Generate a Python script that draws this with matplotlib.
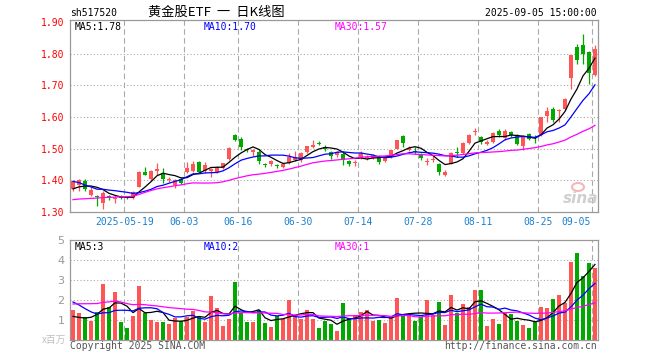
import numpy as np
import pandas as pd
import matplotlib
matplotlib.use("Agg")
import matplotlib.pyplot as plt
from matplotlib.patches import Ellipse

plt.rcParams['font.family'] = ['DejaVu Sans Mono', 'Noto Sans CJK SC']

# trading days 2025-05-06 .. 2025-09-05 (Dragon Boat holiday on 06-02)
dates = pd.bdate_range("2025-05-06", "2025-09-05", freq="C", holidays=["2025-06-02"])
tick_dates = ["2025-05-19", "2025-06-03", "2025-06-16", "2025-06-30", "2025-07-14",
              "2025-07-28", "2025-08-11", "2025-08-25", "2025-09-05"]
tick_labels = ["2025-05-19", "06-03", "06-16", "06-30", "07-14",
               "07-28", "08-11", "08-25", "09-05"]

open_ = [1.373, 1.386, 1.397, 1.355, 1.352, 1.327, 1.349, 1.340, 1.350, 1.347,
         1.343, 1.380, 1.427, 1.404, 1.430, 1.422, 1.402, 1.385, 1.405, 1.425,
         1.429, 1.459, 1.429, 1.429, 1.427, 1.438, 1.467, 1.543, 1.530, 1.497,
         1.490, 1.490, 1.449, 1.450, 1.446, 1.441, 1.454, 1.464, 1.465, 1.489,
         1.504, 1.519, 1.505, 1.489, 1.480, 1.484, 1.460, 1.456, 1.471, 1.470,
         1.471, 1.474, 1.460, 1.474, 1.500, 1.540, 1.495, 1.494, 1.481, 1.459,
         1.465, 1.453, 1.417, 1.453, 1.488, 1.486, 1.518, 1.553, 1.536, 1.514,
         1.521, 1.557, 1.534, 1.552, 1.544, 1.507, 1.545, 1.537, 1.544, 1.604,
         1.625, 1.618, 1.625, 1.724, 1.820, 1.826, 1.804, 1.733]
high = [1.401, 1.405, 1.405, 1.379, 1.353, 1.367, 1.355, 1.350, 1.353, 1.352,
        1.365, 1.428, 1.441, 1.432, 1.455, 1.440, 1.412, 1.405, 1.410, 1.457,
        1.461, 1.461, 1.458, 1.439, 1.445, 1.456, 1.505, 1.546, 1.537, 1.502,
        1.500, 1.496, 1.455, 1.463, 1.451, 1.454, 1.485, 1.494, 1.488, 1.509,
        1.528, 1.523, 1.510, 1.492, 1.492, 1.490, 1.463, 1.464, 1.492, 1.479,
        1.484, 1.479, 1.474, 1.497, 1.528, 1.544, 1.507, 1.505, 1.486, 1.469,
        1.476, 1.455, 1.432, 1.490, 1.505, 1.520, 1.545, 1.565, 1.540, 1.526,
        1.553, 1.563, 1.561, 1.555, 1.547, 1.542, 1.550, 1.542, 1.600, 1.630,
        1.630, 1.625, 1.659, 1.797, 1.830, 1.863, 1.807, 1.828]
low = [1.365, 1.366, 1.365, 1.349, 1.319, 1.311, 1.338, 1.329, 1.340, 1.340,
       1.340, 1.378, 1.416, 1.402, 1.417, 1.393, 1.395, 1.375, 1.388, 1.423,
       1.427, 1.425, 1.424, 1.411, 1.424, 1.436, 1.463, 1.525, 1.495, 1.489,
       1.477, 1.452, 1.442, 1.445, 1.439, 1.438, 1.451, 1.461, 1.458, 1.486,
       1.502, 1.510, 1.494, 1.468, 1.475, 1.448, 1.446, 1.446, 1.466, 1.464,
       1.468, 1.453, 1.458, 1.472, 1.498, 1.505, 1.492, 1.484, 1.464, 1.448,
       1.458, 1.417, 1.415, 1.451, 1.474, 1.484, 1.515, 1.542, 1.514, 1.510,
       1.518, 1.536, 1.526, 1.536, 1.510, 1.497, 1.526, 1.518, 1.541, 1.583,
       1.585, 1.583, 1.622, 1.688, 1.766, 1.766, 1.703, 1.729]
close = [1.397, 1.402, 1.373, 1.370, 1.348, 1.361, 1.343, 1.341, 1.344, 1.343,
         1.362, 1.427, 1.418, 1.429, 1.436, 1.403, 1.405, 1.401, 1.393, 1.440,
         1.452, 1.427, 1.447, 1.437, 1.443, 1.454, 1.503, 1.527, 1.505, 1.496,
         1.497, 1.462, 1.447, 1.462, 1.444, 1.452, 1.473, 1.475, 1.486, 1.507,
         1.512, 1.515, 1.499, 1.478, 1.490, 1.464, 1.453, 1.459, 1.487, 1.473,
         1.481, 1.458, 1.471, 1.495, 1.526, 1.518, 1.502, 1.490, 1.471, 1.461,
         1.467, 1.425, 1.425, 1.487, 1.486, 1.518, 1.542, 1.555, 1.521, 1.521,
         1.551, 1.544, 1.555, 1.544, 1.514, 1.540, 1.531, 1.535, 1.599, 1.620,
         1.592, 1.620, 1.656, 1.795, 1.779, 1.799, 1.740, 1.816]
# volume, millions
volume = [1.52, 1.35, 1.15, 0.97, 1.40, 2.82, 1.67, 2.42, 0.92, 0.62,
          1.21, 2.71, 1.34, 1.01, 0.91, 0.91, 0.79, 1.12, 0.96, 1.14,
          1.46, 1.20, 0.91, 2.21, 1.61, 0.70, 1.06, 2.88, 1.34, 0.92,
          0.92, 1.51, 0.86, 0.65, 1.21, 1.07, 1.98, 1.24, 1.07, 1.48,
          1.07, 0.62, 0.97, 0.80, 0.47, 1.85, 1.10, 1.25, 1.40, 1.52,
          0.97, 1.02, 0.85, 1.10, 2.10, 1.30, 1.23, 0.97, 1.15, 2.00,
          1.23, 1.90, 0.75, 2.25, 1.35, 1.80, 1.65, 2.50, 2.50, 0.70,
          1.05, 0.80, 1.35, 1.30, 0.95, 0.75, 0.60, 0.95, 1.65, 1.60,
          2.05, 2.25, 1.85, 3.90, 4.35, 3.20, 3.85, 3.60]

# days before the visible window, estimated so that the MA lines start where they do
prev_close = [1.34, 1.35, 1.33, 1.32, 1.31, 1.33, 1.32, 1.31, 1.33, 1.32,
              1.26, 1.22, 1.25, 1.28, 1.30, 1.31, 1.30, 1.32, 1.33, 1.37,
              1.44, 1.45, 1.43, 1.42, 1.362, 1.37, 1.36, 1.37, 1.368]
prev_volume = [1.0, 1.1, 0.9, 1.2, 1.0, 1.06, 1.0,
               2.5, 3.0, 2.8, 2.2, 1.9, 2.0, 1.8, 2.1, 2.0, 1.9, 1.8, 2.0, 1.74,
               2.8, 3.0, 2.6, 2.5, 2.2, 1.6, 1.3, 0.8, 0.68]

RED = "#ff5555"
GREEN = "#00a800"
W, H = 660, 360


def rect(x0, y0, x1, y1):
    return [x0 / W, 1 - y1 / H, (x1 - x0) / W, (y1 - y0) / H]


def moving(prev, vals, n):
    s = pd.Series(list(prev) + list(vals)).rolling(n).mean().values
    return s[len(prev):]


o = np.array(open_)
c = np.array(close)
x = np.arange(len(c))
colors = np.where(c >= o, RED, GREEN)
grid_x = [list(dates.strftime("%Y-%m-%d")).index(d) - 0.42 for d in tick_dates]

fig = plt.figure(figsize=(6.6, 3.6), dpi=100)
ax = fig.add_axes(rect(70, 20, 598, 212))
axv = fig.add_axes(rect(70, 240, 598, 340))

for a in (ax, axv):
    for s in a.spines.values():
        s.set_color("#999999")
        s.set_linewidth(0.9)
    a.set_xlim(-0.5, len(c) - 0.5)
    a.set_xticks([])
    a.tick_params(length=0)
    for gx in grid_x:
        a.axvline(gx, color="#aaaaaa", lw=0.8, ls=(0, (5, 3)), zorder=0)

# price panel
ax.vlines(x, low, high, colors=colors, lw=0.9, zorder=2)
ax.bar(x, np.maximum(np.abs(c - o), 0.003), bottom=np.minimum(o, c), width=0.78,
       color=colors, linewidth=0, zorder=3)
ma5 = moving(prev_close, c, 5)
ma10 = moving(prev_close, c, 10)
ma30 = moving(prev_close, c, 30)
ax.plot(x, ma5, color="black", lw=0.9, zorder=4)
ax.plot(x, ma10, color="#0000ff", lw=0.9, zorder=4)
ax.plot(x, ma30, color="#ff00ff", lw=0.9, zorder=4)
ax.set_ylim(1.30, 1.9063)
ax.set_yticks([1.3, 1.4, 1.5, 1.6, 1.7, 1.8, 1.9])
ax.set_yticklabels(["%.2f" % v for v in [1.3, 1.4, 1.5, 1.6, 1.7, 1.8, 1.9]],
                   color="#ff0000", fontsize=7)
ax.tick_params(axis="y", pad=4)
for gy in [1.4, 1.5, 1.6, 1.7, 1.8]:
    ax.axhline(gy, color="#aaaaaa", lw=0.8, ls=(0, (1, 2)), zorder=0)

ax.text(5 / 528, 1 - 7 / 192, "MA5:%.2f" % (np.floor(ma5[-1] * 100) / 100), transform=ax.transAxes,
        fontsize=7, color="black", va="center")
ax.text(134 / 528, 1 - 7 / 192, "MA10:%.2f" % (np.floor(ma10[-1] * 100) / 100), transform=ax.transAxes,
        fontsize=7, color="#0000ff", va="center")
ax.text(265 / 528, 1 - 7 / 192, "MA30:%.2f" % (np.floor(ma30[-1] * 100) / 100), transform=ax.transAxes,
        fontsize=7, color="#ff00ff", va="center")

for i, (gx, lab) in enumerate(zip(grid_x, tick_labels)):
    if i == len(tick_labels) - 1:
        ax.text(gx - 0.3, -0.05, lab, transform=ax.get_xaxis_transform(), ha="right",
                va="center", fontsize=7, color="#1a80d0")
    else:
        ax.text(gx, -0.05, lab, transform=ax.get_xaxis_transform(), ha="center",
                va="center", fontsize=7, color="#1a80d0")

# volume panel
v = np.array(volume)
axv.bar(x, v, width=0.83, color=colors, linewidth=0, zorder=2)
axv.plot(x, moving(prev_volume, v, 5), color="black", lw=0.9, zorder=4)
axv.plot(x, moving(prev_volume, v, 10), color="#0000ff", lw=0.9, zorder=4)
axv.plot(x, moving(prev_volume, v, 30), color="#ff00ff", lw=0.9, zorder=4)
axv.set_ylim(0, 5)
axv.set_yticks([1, 2, 3, 4, 5])
axv.set_yticklabels(["1", "2", "3", "4", "5"], color="#999999", fontsize=8,
                    family=["DejaVu Sans"])
axv.tick_params(axis="y", pad=4)
for gy in [1, 2, 3, 4]:
    axv.axhline(gy, color="#aaaaaa", lw=0.8, ls=(0, (1, 2)), zorder=0)
vm5 = moving(prev_volume, v, 5)[-1]
vm10 = moving(prev_volume, v, 10)[-1]
vm30 = moving(prev_volume, v, 30)[-1]
axv.text(5 / 528, 1 - 7 / 100, "MA5:%d" % int(vm5), transform=axv.transAxes,
         fontsize=7, color="black", va="center")
axv.text(134 / 528, 1 - 7 / 100, "MA10:%d" % int(vm10), transform=axv.transAxes,
         fontsize=7, color="#0000ff", va="center")
axv.text(265 / 528, 1 - 7 / 100, "MA30:%d" % int(vm30), transform=axv.transAxes,
         fontsize=7, color="#ff00ff", va="center")

# header and footer
fig.text(70 / W, 1 - 13 / H, "sh517520", fontsize=7, va="center", color="black")
fig.text(216 / W, 1 - 12.5 / H, "黄金股ETF  一  日K线图", fontsize=9.5, ha="center", va="center",
         family=["Noto Sans CJK SC", "DejaVu Sans"], color="black")
fig.text(597 / W, 1 - 13 / H, "2025-09-05 15:00:00", fontsize=7, ha="right", va="center")
fig.text(66 / W, 1 - 340 / H, "x百万", fontsize=7, ha="right", va="center", color="#c0c0c0",
         family=["Noto Sans CJK SC", "DejaVu Sans"])
fig.text(70 / W, 1 - 346 / H, "Copyright 2025 SINA.COM", fontsize=7, va="center", color="#555555")
fig.text(597 / W, 1 - 346 / H, "http://finance.sina.com.cn", fontsize=7, ha="right",
         va="center", color="#555555")

# sina watermark
fig.add_artist(Ellipse((578 / W, 1 - 187 / H), 12 / W, 8 / H, transform=fig.transFigure,
                       facecolor="none", edgecolor="#f3b8b8", lw=1.5))
fig.text(581 / W, 1 - 198 / H, "sina", fontsize=11, ha="center", va="center", color="#cfcfcf",
         style="italic", weight="bold", family=["DejaVu Sans"])

fig.savefig("out.png", dpi=100)
